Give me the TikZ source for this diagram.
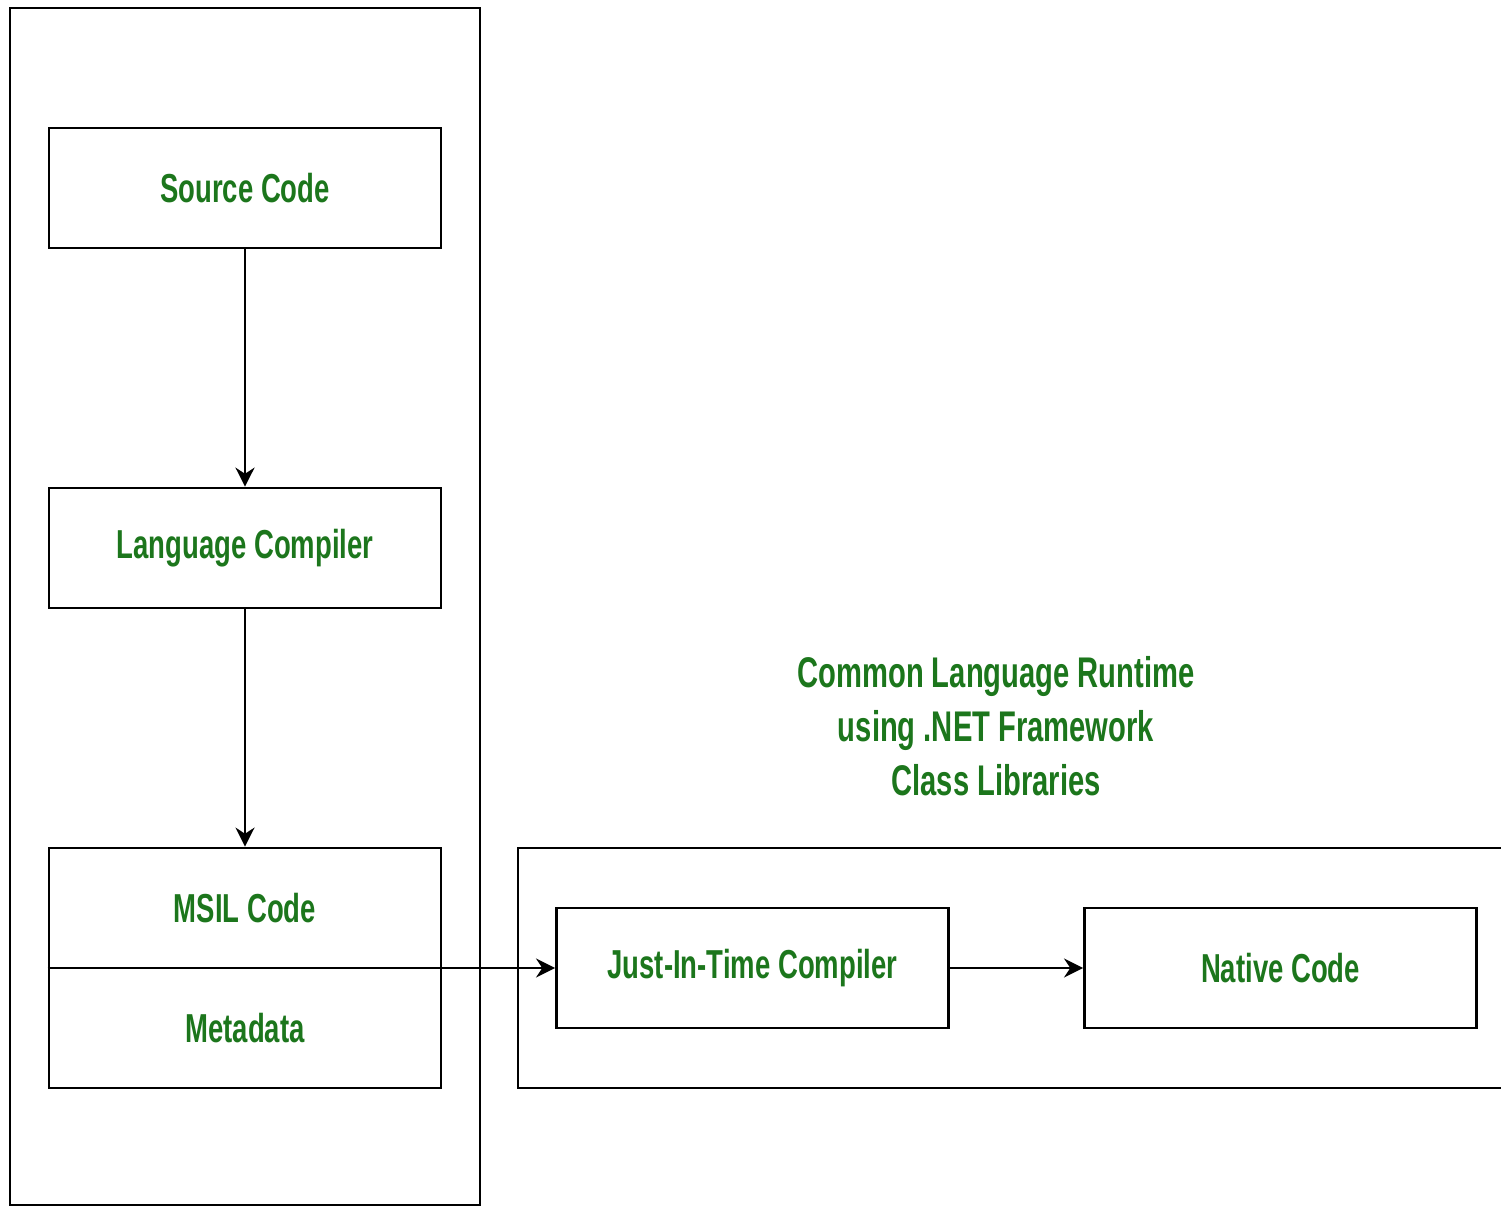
\documentclass[tikz,border=0pt]{standalone}
\usepackage{fontspec}
\setmainfont{Liberation Sans}[FakeStretch=0.68]
\usepackage{xcolor}
\usetikzlibrary{arrows.meta}
\definecolor{labelgreen}{RGB}{28,118,28}

\begin{document}
\begin{tikzpicture}[x=0.01cm, y=-0.01cm,
    box/.style={draw, line width=0.75pt, minimum width=3.92cm, minimum height=1.2cm, inner sep=0pt},
    lbl/.style={text=labelgreen, font=\fontsize{11.5}{15.3}\selectfont\bfseries},
    arr/.style={-{Stealth[length=0.19cm, width=0.19cm]}, line width=0.75pt}]
\useasboundingbox (0, 0) rectangle (1501, 1207);

% outer frames
\draw [line width=0.75pt] (10, 8) rectangle (480, 1205);
\draw [line width=0.75pt] (1510, 848) -- (518, 848) -- (518, 1088) -- (1510, 1088);

\node [box, lbl] (src) at (245, 188) {Source Code};
\node [box, lbl] (lang) at (245, 548) {Language Compiler};
\node [box, minimum height=2.4cm] (msil) at (245, 968) {};
\node [lbl] (msiltext) at (245, 908) {MSIL Code};
\node [lbl] (meta) at (245, 1028) {Metadata};

\node [lbl, font=\fontsize{12.2}{15.3}\selectfont\bfseries, align=center] (clr) at (996, 726) {Common Language Runtime\\using .NET Framework\\Class Libraries};
\node [box, lbl] (jit) at (752.5, 968) {Just-In-Time Compiler};
\node [box, lbl] (native) at (1280.5, 968) {Native Code};

\draw [arr] (src) -- (lang);
\draw [arr] (lang) -- (msil);
\draw [arr] (msil.west) -- (jit.west);
\draw [arr] (jit) -- (native);
\end{tikzpicture}
\end{document}
